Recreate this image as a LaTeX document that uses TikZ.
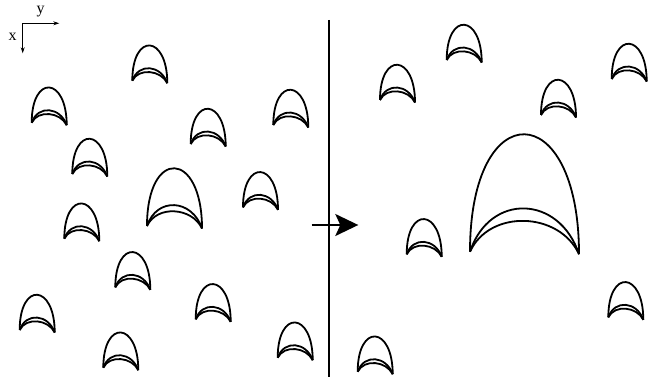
\documentclass[tikz,border=0pt]{standalone}
\usepackage{fontspec}
\setmainfont{Liberation Serif}
\usepackage{tikz}
\usetikzlibrary{arrows.meta}

% #1 = left foot x, #2 = foot y, #3 = width, #4 = height
\newcommand{\arch}[4]{%
  \draw[archline] (#1,#2) .. controls +(0,-1.333*#4) and +(0,-1.333*#4) .. (#1+#3,#2+2.5);
  \draw[archline] (#1,#2) .. controls +(0.18*#3,-0.5*#4) and +(-0.18*#3,-0.5*#4) .. (#1+#3,#2+2.5);
  \draw[archline] (#1,#2) .. controls +(0.18*#3,-0.36*#4) and +(-0.18*#3,-0.36*#4) .. (#1+#3,#2+2.5);
}

\begin{document}
\begin{tikzpicture}[
  x=1pt, y=-1pt,
  archline/.style={line width=1.8pt, black},
  axis/.style={-{Stealth[length=6pt, width=4pt]}, line width=0.8pt},
  lab/.style={inner sep=0pt, font=\fontsize{16}{16}\selectfont},
  move/.style={-{Stealth[length=23pt, width=22pt, inset=5pt]}, line width=2pt}
]
\useasboundingbox (0,0) rectangle (655,377);

% axes
\coordinate (o)  at (22.7,23.3);
\coordinate (xe) at (22.7,53.3);
\coordinate (ye) at (59.3,23.3);
\node[lab] (xlab) at (12.7,37) {x};
\node[lab] (ylab) at (40.7,12) {y};
\draw[axis] (o) -- (xe);
\draw[axis] (o) -- (ye);

% divider and arrow
\coordinate (dtop) at (329,20);
\coordinate (dbot) at (329,377);
\draw[line width=2pt] (dtop) -- (dbot);
\coordinate (mstart) at (311.7,225);
\coordinate (mend)   at (358.3,225);
\draw[move] (mstart) -- (mend);

% before
\arch{132.3}{80.7}{35}{36.5}
\arch{31.7}{122.7}{35}{36.5}
\arch{190.7}{144}{35}{36.5}
\arch{273.3}{125}{35}{36.5}
\arch{72.3}{174}{35}{36.5}
\arch{243}{207.3}{35}{36.5}
\arch{64.3}{238.7}{35}{36.5}
\arch{115.3}{287.3}{35}{36.5}
\arch{195.7}{319.3}{35}{36.5}
\arch{19.7}{330}{35}{36.5}
\arch{103.3}{367.7}{35}{36.5}
\arch{277.7}{357.7}{35}{36.5}
\arch{147}{226}{55}{59}

% after
\arch{446.7}{60}{35}{36.5}
\arch{380}{100}{35}{36.5}
\arch{541}{115}{35}{36.5}
\arch{611.7}{79}{35}{36.5}
\arch{406.7}{254.3}{35}{36.5}
\arch{608.3}{317.3}{35}{36.5}
\arch{357.7}{371.7}{35}{36.5}
\arch{470}{251.7}{109}{118.7}
\end{tikzpicture}
\end{document}
